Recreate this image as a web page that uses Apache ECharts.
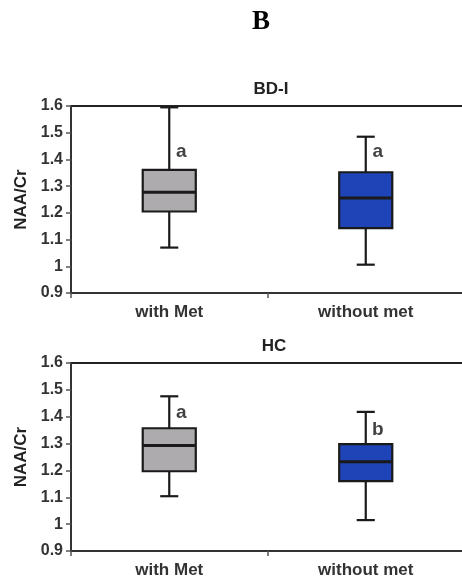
<!DOCTYPE html>
<html>
<head>
<meta charset="utf-8">
<script src="https://cdn.jsdelivr.net/npm/echarts@6/dist/echarts.min.js"></script>
<style>
  html, body { margin: 0; padding: 0; background: #fff; }
  #chart { width: 462px; height: 586px; }
</style>
</head>
<body>
<div id="chart"></div>
<script>
// Groups on the x axis
const categories = ['with Met', 'without met'];

// Box statistics per group: [low whisker, Q1, median, Q3, high whisker]
const bdiStats = [
  [1.07, 1.205, 1.277, 1.361, 1.595],
  [1.006, 1.143, 1.256, 1.352, 1.485]
];
const hcStats = [
  [1.104, 1.197, 1.293, 1.357, 1.476],
  [1.015, 1.160, 1.232, 1.298, 1.418]
];

// Significance letters and the heights they sit at
const bdiLetters = ['a', 'a'];
const bdiLetterY = [1.428, 1.428];
const hcLetters = ['a', 'b'];
const hcLetterY = [1.413, 1.350];

// Y axis range and step
const yMin = 0.9;
const yMax = 1.6;
const yStep = 0.1;

const panelTitles = ['BD-I', 'HC'];
const yName = 'NAA/Cr';

const boxFill = ['#aeabae', '#1f44b8'];
const ink = '#1a1a1a';
const font = 'Liberation Sans, Arial, sans-serif';

function boxData(stats) {
  return stats.map((s, i) => [i].concat(s));
}
function letterData(ys) {
  return ys.map((y, i) => [i, y]);
}

function renderBox(params, api) {
  const c = api.value(0);
  const band = api.size([1, 0])[0];
  const bw = band * 0.27;
  const cw = band * 0.092;
  const x = api.coord([c, api.value(3)])[0];
  const yLow = api.coord([c, api.value(1)])[1];
  const yQ1 = api.coord([c, api.value(2)])[1];
  const yMed = api.coord([c, api.value(3)])[1];
  const yQ3 = api.coord([c, api.value(4)])[1];
  const yHigh = api.coord([c, api.value(5)])[1];
  const lineStyle = { stroke: ink, lineWidth: 2.2 };
  return {
    type: 'group',
    children: [
      { type: 'line', shape: { x1: x, y1: yHigh, x2: x, y2: yQ3 }, style: lineStyle },
      { type: 'line', shape: { x1: x, y1: yQ1, x2: x, y2: yLow }, style: lineStyle },
      { type: 'line', shape: { x1: x - cw / 2, y1: yHigh, x2: x + cw / 2, y2: yHigh }, style: lineStyle },
      { type: 'line', shape: { x1: x - cw / 2, y1: yLow, x2: x + cw / 2, y2: yLow }, style: lineStyle },
      { type: 'rect', shape: { x: x - bw / 2, y: yQ3, width: bw, height: yQ1 - yQ3 },
        style: { fill: boxFill[c], stroke: ink, lineWidth: 2.2 } },
      { type: 'line', shape: { x1: x - bw / 2, y1: yMed, x2: x + bw / 2, y2: yMed },
        style: { stroke: ink, lineWidth: 3 } }
    ]
  };
}

// Plot boxes run just past the right edge of the canvas
const grids = [
  { left: 71, top: 106, width: 393, height: 187 },
  { left: 71, top: 363, width: 393, height: 188 }
];

function xAxisFor(gi) {
  return {
    type: 'category',
    gridIndex: gi,
    data: categories,
    boundaryGap: true,
    axisLine: { lineStyle: { color: '#333', width: 2 } },
    axisTick: { show: true, length: 5, alignWithLabel: false, lineStyle: { color: '#555', width: 1.5 } },
    axisLabel: { color: '#333', fontSize: 17, fontWeight: 'bold', fontFamily: font, margin: 11 },
    splitLine: { show: false }
  };
}
function yAxisFor(gi) {
  return {
    type: 'value',
    gridIndex: gi,
    min: yMin,
    max: yMax,
    interval: yStep,
    name: yName,
    nameLocation: 'middle',
    nameRotate: 90,
    nameGap: 40,
    nameTextStyle: { color: '#222', fontSize: 17, fontWeight: 'bold', fontFamily: font },
    axisLine: { show: true, lineStyle: { color: '#333', width: 2 } },
    axisTick: { show: true, length: 5, lineStyle: { color: '#555', width: 1.5 } },
    axisLabel: { color: '#333', fontSize: 16, fontWeight: 'bold', fontFamily: font, margin: 8 },
    splitLine: { show: false }
  };
}

function letterSeries(gi, letters, ys) {
  return {
    type: 'scatter',
    xAxisIndex: gi,
    yAxisIndex: gi,
    symbolSize: 0,
    silent: true,
    data: letterData(ys),
    label: {
      show: true,
      position: 'inside',
      offset: [12, 0],
      formatter: p => letters[p.dataIndex],
      color: '#111',
      fontSize: 19,
      fontWeight: 'bold',
      fontFamily: font
    }
  };
}

const chart = echarts.init(document.getElementById('chart'), null, { renderer: 'canvas' });
chart.setOption({
  animation: false,
  backgroundColor: '#fff',
  title: [
    { text: 'B', left: 256, top: 4, textAlign: 'center',
      textStyle: { fontFamily: 'Liberation Serif, Times New Roman, serif', fontSize: 27, fontWeight: 'bold', color: '#000' } },
    { text: panelTitles[0], left: 266, top: 76, textAlign: 'center',
      textStyle: { fontFamily: font, fontSize: 17, fontWeight: 'bold', color: '#222' } },
    { text: panelTitles[1], left: 269, top: 333, textAlign: 'center',
      textStyle: { fontFamily: font, fontSize: 17, fontWeight: 'bold', color: '#222' } }
  ],
  grid: grids.map(g => Object.assign({
    show: true, borderColor: '#222', borderWidth: 2, backgroundColor: 'transparent',
    outerBoundsMode: 'none', containLabel: false
  }, g)),
  xAxis: [xAxisFor(0), xAxisFor(1)],
  yAxis: [yAxisFor(0), yAxisFor(1)],
  series: [
    { type: 'custom', xAxisIndex: 0, yAxisIndex: 0, renderItem: renderBox,
      encode: { x: 0, y: [1, 2, 3, 4, 5] }, data: boxData(bdiStats) },
    { type: 'custom', xAxisIndex: 1, yAxisIndex: 1, renderItem: renderBox,
      encode: { x: 0, y: [1, 2, 3, 4, 5] }, data: boxData(hcStats) },
    letterSeries(0, bdiLetters, bdiLetterY),
    letterSeries(1, hcLetters, hcLetterY)
  ]
});
</script>
</body>
</html>
